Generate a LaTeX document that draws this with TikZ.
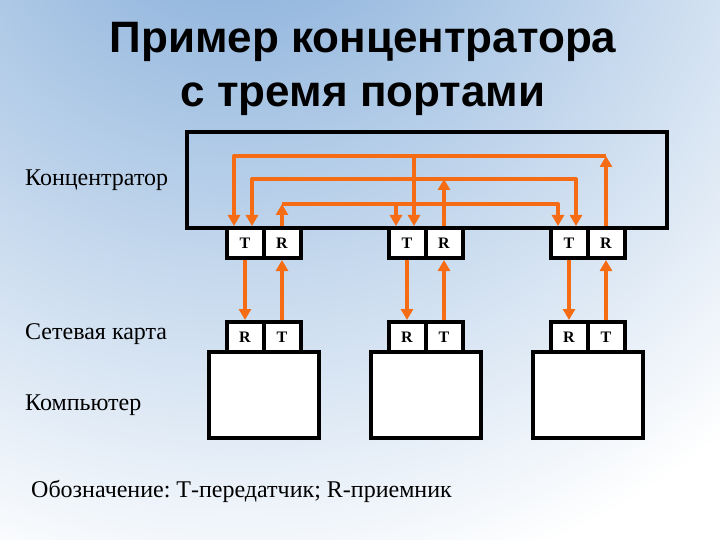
\documentclass[tikz,border=0pt]{standalone}
\usepackage{fontspec}
\setmainfont{Liberation Serif}
\newfontfamily\headfont{Liberation Sans}
\usetikzlibrary{arrows.meta}
\definecolor{wireorange}{RGB}{245,108,20}
\definecolor{skyblue}{RGB}{125,168,215}
\frenchspacing
\begin{document}
\begin{tikzpicture}
  [
    x=1pt, y=-1pt,
    head/.style={anchor=base, font=\headfont\bfseries\fontsize{44}{44}\selectfont},
    caption/.style={anchor=base west, inner sep=0pt, font=\fontsize{24}{24}\selectfont},
    port/.style={draw, line width=4pt, fill=white, minimum width=37pt, minimum height=30pt,
      inner sep=0pt, font=\bfseries\fontsize{16}{16}\selectfont},
    pc/.style={draw, line width=4pt, fill=white, minimum width=110pt, minimum height=86pt},
    wire/.style={wireorange, line width=4pt, line join=round},
    tip/.style={-{Triangle[length=11pt,width=12pt]}}
  ]
  \useasboundingbox (0,0) rectangle (720,540);
  % background
  \begin{scope}
    \clip (0,0) rectangle (720,540);
    \shade[inner color=skyblue, outer color=white] (240,-150) circle (760);
  \end{scope}
  % title
  \node[head] (head1) at (363,53) {Пример концентратора};
  \node[head] (head2) at (363,107) {с тремя портами};
  % hub
  \node[draw, line width=4pt, minimum width=480pt, minimum height=96pt] (hub) at (427,180) {};
  % ports, cards, computers
  \foreach \i/\x in {1/245,2/407,3/569} {
    \node[pc] (pc\i) at (\x+19,395) {};
    \node[port] (hT\i) at (\x,243) {T};
    \node[port] (hR\i) at (\x+37,243) {R};
    \node[port] (nR\i) at (\x,337) {R};
    \node[port] (nT\i) at (\x+37,337) {T};
    \coordinate (inA\i) at ([xshift=-11pt]hT\i.north);
    \coordinate (inB\i) at ([xshift=7pt]hT\i.north);
    \draw[wire,tip] (hT\i.south) -- (nR\i.north);
    \draw[wire,tip] (nT\i.north) -- (hR\i.south);
  }
  % bus levels
  \coordinate (lvA) at (0,156);
  \coordinate (lvB) at (0,179);
  \coordinate (lvC) at (0,204);
  \draw[wire,tip] (hR3.north) -- (hR3.north |- lvA);
  \draw[wire,tip] (hR3.north |- lvA) -| (inA1);
  \draw[wire,tip] (inB2 |- lvA) -- (inB2);
  \draw[wire,tip] (hR2.north) -- (hR2.north |- lvB);
  \draw[wire,tip] (hR2.north |- lvB) -| (inB1);
  \draw[wire,tip] (hR2.north |- lvB) -| (inB3);
  \draw[wire,tip] (hR1.north) -- (hR1.north |- lvC);
  \draw[wire,tip] (hR1.north |- lvC) -| (inA3);
  \draw[wire,tip] (inA2 |- lvC) -- (inA2);
  % labels
  \node[caption] (hubtext) at (25,186) {Концентратор};
  \node[caption] (cardtext) at (25,339) {Сетевая карта};
  \node[caption] (pctext) at (25,410) {Компьютер};
  \node[caption] (legend) at (31,497) {Обозначение: Т-передатчик; R-приемник};
\end{tikzpicture}
\end{document}
